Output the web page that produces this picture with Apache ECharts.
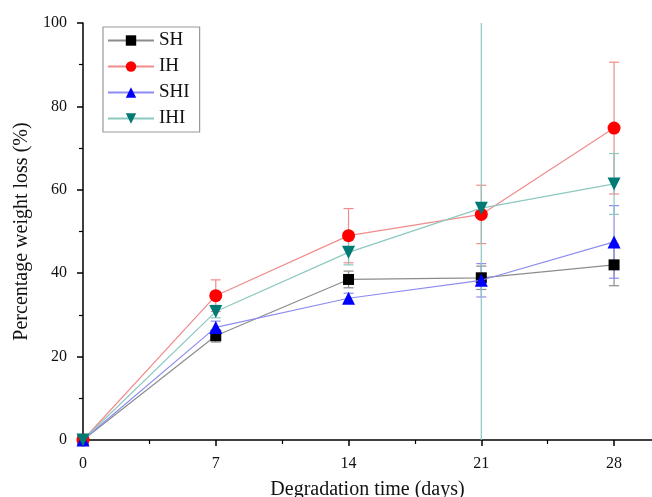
<!DOCTYPE html>
<html>
<head>
<meta charset="utf-8">
<script src="https://cdn.jsdelivr.net/npm/echarts@6/dist/echarts.min.js"></script>
<style>
  html, body { margin: 0; padding: 0; background: #fff; }
  #chart { width: 652px; height: 497px; }
</style>
</head>
<body>
<div id="chart"></div>
<script>
// Degradation time points (days)
const days = [0, 7, 14, 21, 28];
const dayTicks = [0, 7, 14, 21, 28];
const dayMinorTicks = [3.5, 10.5, 17.5, 24.5];

// Mean weight loss (%) per sample
const SH = [0, 25.0, 38.5, 38.9, 42.0];
const IH = [0, 34.6, 49.0, 54.1, 74.8];
const SHI = [0, 27.0, 34.0, 38.3, 47.5];
const IHI = [0, 30.8, 45.0, 55.6, 61.4];

// Standard deviations
const SH_err = [0, 1.5, 2.0, 2.8, 5.0];
const IH_err = [0, 3.8, 6.5, 7.0, 15.8];
const SHI_err = [0, 1.5, 1.2, 4.0, 8.7];
const IHI_err = [0, 1.5, 3.0, 60.0, 7.3];

const seriesDefs = [
  { name: 'SH', values: SH, err: SH_err, symbol: 'rect', size: 11, marker: '#000000', line: '#8c8c8c' },
  { name: 'IH', values: IH, err: IH_err, symbol: 'circle', size: 13, marker: '#ff0000', line: '#f08c8c' },
  { name: 'SHI', values: SHI, err: SHI_err, symbol: 'triangle', size: 13, marker: '#0000ff', line: '#8c8cf0' },
  { name: 'IHI', values: IHI, err: IHI_err, symbol: 'path://M0,0 L10,0 L5,9 Z', size: 13, marker: '#007a74', line: '#8cc8c0' }
];

const serif = '"Liberation Serif", "DejaVu Serif", serif';

function errorBarSeries(def) {
  const data = days.map((d, i) => [d, def.values[i] - def.err[i], def.values[i] + def.err[i]]);
  return {
    type: 'custom',
    name: def.name + ' error',
    xAxisIndex: 0,
    yAxisIndex: 0,
    clip: true,
    silent: true,
    z: 1,
    data: data,
    renderItem: function (params, api) {
      const x = api.value(0);
      const lo = api.coord([x, api.value(1)]);
      const hi = api.coord([x, api.value(2)]);
      const half = 5;
      const style = { stroke: def.line, lineWidth: 1.2, fill: null };
      return {
        type: 'group',
        children: [
          { type: 'line', shape: { x1: lo[0], y1: lo[1], x2: hi[0], y2: hi[1] }, style: style },
          { type: 'line', shape: { x1: lo[0] - half, y1: lo[1], x2: lo[0] + half, y2: lo[1] }, style: style },
          { type: 'line', shape: { x1: hi[0] - half, y1: hi[1], x2: hi[0] + half, y2: hi[1] }, style: style }
        ]
      };
    }
  };
}

const series = [];
seriesDefs.forEach(def => {
  series.push(errorBarSeries(def));
});
seriesDefs.forEach((def, k) => {
  series.push({
    type: 'line',
    name: def.name,
    xAxisIndex: 0,
    yAxisIndex: 0,
    data: days.map((d, i) => [d, def.values[i]]),
    symbol: def.symbol,
    symbolSize: def.size,
    showAllSymbol: true,
    z: 3 + k,
    lineStyle: { color: def.line, width: 1.2 },
    itemStyle: { color: def.marker, borderWidth: 0 },
    emphasis: { disabled: true },
    animation: false
  });
});

const chart = echarts.init(document.getElementById('chart'), null, { renderer: 'canvas' });
chart.setOption({
  animation: false,
  backgroundColor: '#ffffff',
  grid: { left: 83, right: 0, top: 23, bottom: 57, containLabel: false, outerBoundsMode: 'none' },
  legend: {
    data: seriesDefs.map(d => d.name),
    orient: 'vertical',
    left: 103,
    top: 27,
    padding: [4, 10, 4, 4],
    itemWidth: 46,
    itemHeight: 13,
    itemGap: 7,
    borderColor: '#999999',
    borderWidth: 1.2,
    textStyle: { fontFamily: serif, fontSize: 19, color: '#111', padding: [0, 0, 0, 0] }
  },
  xAxis: [
    {
      type: 'value',
      min: 0,
      max: 30,
      name: 'Degradation time (days)',
      nameLocation: 'middle',
      nameGap: 40,
      nameTextStyle: { fontFamily: serif, fontSize: 20, color: '#111' },
      axisLine: { onZero: false, lineStyle: { color: '#000', width: 1.5 } },
      axisTick: { show: true, inside: false, length: 6, customValues: dayTicks, lineStyle: { color: '#000', width: 1.5 } },
      axisLabel: { customValues: dayTicks, fontFamily: serif, fontSize: 16, color: '#111', margin: 16 },
      splitLine: { show: false }
    },
    {
      type: 'value',
      min: 0,
      max: 30,
      position: 'bottom',
      axisLine: { show: false },
      axisTick: { show: true, inside: false, length: 4, customValues: dayMinorTicks, lineStyle: { color: '#000', width: 1.2 } },
      axisLabel: { show: false },
      splitLine: { show: false }
    }
  ],
  yAxis: {
    type: 'value',
    min: 0,
    max: 100,
    interval: 20,
    name: 'Percentage weight loss (%)',
    nameLocation: 'middle',
    nameGap: 50,
    nameTextStyle: { fontFamily: serif, fontSize: 20, color: '#111' },
    axisLine: { show: true, onZero: false, lineStyle: { color: '#000', width: 1.5 } },
    axisTick: { show: true, inside: false, length: 6, lineStyle: { color: '#000', width: 1.5 } },
    minorTick: { show: true, splitNumber: 2, length: 4, lineStyle: { color: '#000', width: 1.2 } },
    axisLabel: { fontFamily: serif, fontSize: 16, color: '#111', margin: 16 },
    splitLine: { show: false }
  },
  series: series
});
</script>
</body>
</html>
